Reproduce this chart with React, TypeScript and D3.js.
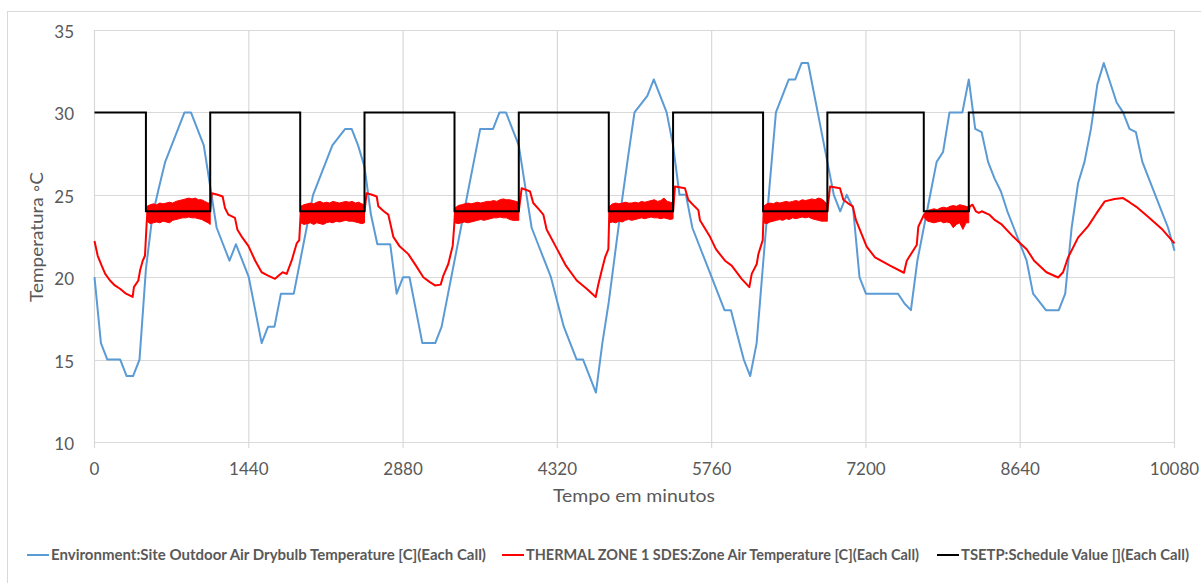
import React, { useEffect, useRef } from "react";
import * as d3 from "d3";

// x axis: minutes over one week, y axis: temperature in C
const xTicks = [0, 1440, 2880, 4320, 5760, 7200, 8640, 10080];
const yTicks = [10, 15, 20, 25, 30, 35];

// TSETP schedule: minute where the value changes and the value from there on
const scheduleMinutes = [0, 480, 1080, 1920, 2520, 3360, 3960, 4800, 5400, 6240, 6840, 7740, 8160, 10080];
const scheduleValues = [30, 24, 30, 24, 30, 24, 30, 24, 30, 24, 30, 24, 30, 30];

// outdoor drybulb, one value per hour (minute 0 .. 10080)
const outdoorTemp = [
  20, 16, 15, 15, 15, 14, 14, 15, 20.5, 23.7, 25.4, 27, 28, 29, 30, 30, 29, 28, 25.5, 23, 22, 21, 22, 21,
  20, 18, 16, 17, 17, 19, 19, 19, 21, 23, 25, 26, 27, 28, 28.5, 29, 29, 28, 26.7, 23.8, 22, 22, 22, 19,
  20, 20, 18, 16, 16, 16, 17, 19, 21, 23, 25, 27, 29, 29, 29, 30, 30, 29, 28, 25.5, 23, 22, 21, 20,
  18.5, 17, 16, 15, 15, 14, 13, 16, 18.5, 21.5, 24.5, 27.3, 30, 30.5, 31, 32, 31, 30, 28, 25, 25, 23, 22, 21,
  20, 19, 18, 18, 16.5, 15, 14, 16, 20.8, 25.5, 30, 31, 32, 32, 33, 33, 31, 29, 27, 25, 24, 25, 24.2, 20,
  19, 19, 19, 19, 19, 19, 18.4, 18, 21, 23, 25, 27, 27.6, 30, 30, 30, 32, 29, 28.8, 27, 26, 25.2, 24, 23,
  22, 21, 19, 18.5, 18, 18, 18, 19, 23, 25.7, 27, 29, 31.7, 33, 31.8, 30.6, 30, 29, 28.8, 27, 26, 25, 24, 23,
  21.6
];

// zone air temperature outside the occupied hours (inside them it is hidden by the band)
const zoneMinutes = [
  0, 30, 67, 100, 145, 190, 238, 294, 356, 368, 409, 425, 450, 471, 487, 495, 1080, 1094, 1150, 1196, 1218, 1249,
  1311, 1333, 1380, 1436, 1500, 1560, 1620, 1685, 1720, 1756, 1794, 1840, 1887, 1911, 1925, 2520, 2540, 2590,
  2634, 2649, 2700, 2742, 2789, 2845, 2929, 3000, 3069, 3130, 3178, 3231, 3256, 3302, 3343, 3356, 3365, 3960,
  3987, 4030, 4065, 4095, 4150, 4189, 4220, 4314, 4400, 4501, 4594, 4678, 4700, 4734, 4765, 4796, 4805, 5400,
  5418, 5511, 5542, 5600, 5636, 5651, 5745, 5800, 5885, 5947, 6040, 6112, 6134, 6181, 6196, 6237, 6245, 6840,
  6865, 6958, 6989, 7030, 7077, 7107, 7207, 7285, 7425, 7555, 7581, 7674, 7689, 7742, 8160, 8170, 8195, 8226,
  8255, 8281, 8350, 8405, 8467, 8576, 8700, 8770, 8885, 8994, 9040, 9087, 9180, 9274, 9351, 9429, 9520, 9600,
  9660, 9724, 9833, 9957, 10080
];
const zoneValues = [
  22.2, 21.3, 20.7, 20.2, 19.8, 19.5, 19.3, 19.0, 18.8, 19.4, 19.8, 20.4, 21.0, 21.3, 23.3, 24.0, 24.0, 25.1, 25.0, 24.9, 24.2, 23.8,
  23.6, 22.9, 22.4, 21.9, 21.0, 20.3, 20.1, 19.9, 20.1, 20.3, 20.2, 21.0, 22.05, 22.25, 24.0, 24.0, 25.1, 25.0,
  24.9, 24.3, 24.0, 23.8, 22.45, 21.9, 21.4, 20.7, 20.0, 19.7, 19.5, 19.55, 20.1, 20.8, 21.9, 23.0, 24.0, 24.0,
  25.4, 25.3, 25.2, 24.5, 24.1, 23.8, 22.9, 21.75, 20.7, 19.8, 19.3, 18.8, 19.5, 20.4, 21.2, 21.7, 24.0, 24.0,
  25.5, 25.4, 24.7, 24.3, 24.07, 23.46, 22.45, 21.7, 21.0, 20.7, 19.9, 19.4, 20.2, 20.8, 21.4, 22.25, 24.0, 24.0,
  25.5, 25.4, 24.7, 24.5, 24.3, 23.46, 21.85, 21.2, 20.7, 20.27, 21.0, 21.95, 23.06, 23.8, 24.0, 24.3, 24.4, 24.0,
  23.9, 24.0, 23.8, 23.46, 23.2, 22.45, 21.7, 21.0, 20.3, 19.98, 20.3, 21.2, 22.4, 23.1, 23.87, 24.6, 24.75, 24.8,
  24.55, 24.27, 23.67, 22.96, 22.05
];

// occupied periods: the zone temperature swings fast around 24, kept as a low/high envelope
const occ1Minutes = [490, 520, 550, 580, 610, 640, 670, 700, 730, 760, 790, 820, 850, 880, 910, 940, 970, 1000, 1030, 1060, 1080];
const occ1High = [24.3, 24.4, 24.45, 24.4, 24.5, 24.45, 24.5, 24.55, 24.5, 24.6, 24.65, 24.7, 24.75, 24.8, 24.75, 24.8, 24.7, 24.7, 24.6, 24.5, 24.5];
const occ1Low = [23.4, 23.25, 23.3, 23.35, 23.3, 23.4, 23.35, 23.3, 23.45, 23.5, 23.55, 23.6, 23.6, 23.65, 23.6, 23.6, 23.55, 23.5, 23.4, 23.3, 23.2];

const occ2Minutes = [1925, 1955, 1985, 2015, 2045, 2075, 2105, 2135, 2165, 2195, 2225, 2255, 2285, 2315, 2345, 2375, 2405, 2435, 2465, 2495, 2520];
const occ2High = [24.3, 24.4, 24.45, 24.5, 24.45, 24.55, 24.6, 24.5, 24.55, 24.5, 24.6, 24.55, 24.5, 24.55, 24.6, 24.55, 24.6, 24.5, 24.55, 24.45, 24.4];
const occ2Low = [23.3, 23.2, 23.25, 23.3, 23.2, 23.3, 23.25, 23.2, 23.3, 23.35, 23.3, 23.4, 23.35, 23.4, 23.45, 23.4, 23.4, 23.35, 23.3, 23.25, 23.3];

const occ3Minutes = [3365, 3395, 3425, 3455, 3485, 3515, 3545, 3575, 3605, 3635, 3665, 3695, 3725, 3755, 3785, 3815, 3845, 3875, 3905, 3935, 3960];
const occ3High = [24.2, 24.35, 24.4, 24.45, 24.5, 24.45, 24.5, 24.55, 24.5, 24.55, 24.6, 24.6, 24.65, 24.6, 24.7, 24.75, 24.7, 24.7, 24.65, 24.6, 24.55];
const occ3Low = [23.3, 23.25, 23.3, 23.35, 23.3, 23.35, 23.4, 23.45, 23.5, 23.45, 23.5, 23.55, 23.6, 23.6, 23.65, 23.6, 23.6, 23.5, 23.45, 23.45, 23.45];

const occ4Minutes = [4805, 4835, 4865, 4895, 4925, 4955, 4985, 5015, 5045, 5075, 5105, 5135, 5165, 5195, 5225, 5255, 5285, 5315, 5345, 5375, 5400];
const occ4High = [24.3, 24.45, 24.5, 24.45, 24.5, 24.55, 24.5, 24.5, 24.55, 24.5, 24.6, 24.55, 24.6, 24.65, 24.7, 24.6, 24.65, 24.8, 24.6, 24.55, 24.5];
const occ4Low = [23.3, 23.35, 23.3, 23.4, 23.35, 23.45, 23.5, 23.45, 23.5, 23.55, 23.6, 23.55, 23.6, 23.65, 23.6, 23.6, 23.55, 23.6, 23.55, 23.5, 23.55];

const occ5Minutes = [6245, 6275, 6305, 6335, 6365, 6395, 6425, 6455, 6485, 6515, 6545, 6575, 6605, 6635, 6665, 6695, 6725, 6755, 6785, 6815, 6840];
const occ5High = [24.3, 24.45, 24.5, 24.45, 24.55, 24.5, 24.55, 24.6, 24.55, 24.6, 24.65, 24.6, 24.7, 24.65, 24.7, 24.75, 24.7, 24.8, 24.75, 24.6, 24.4];
const occ5Low = [23.3, 23.25, 23.35, 23.4, 23.45, 23.5, 23.45, 23.55, 23.5, 23.6, 23.55, 23.6, 23.65, 23.6, 23.65, 23.55, 23.5, 23.45, 23.4, 23.4, 23.4];

const occ6Minutes = [7745, 7775, 7805, 7835, 7865, 7895, 7925, 7955, 7985, 8015, 8045, 8075, 8105, 8135, 8160];
const occ6High = [23.9, 24.05, 24.1, 24.15, 24.1, 24.2, 24.25, 24.2, 24.3, 24.35, 24.3, 24.4, 24.35, 24.3, 24.25];
const occ6Low = [23.6, 23.4, 23.35, 23.3, 23.35, 23.4, 23.3, 23.35, 23.3, 23.0, 23.2, 23.3, 22.9, 23.3, 23.3];

const legendLabels = [
  "Environment:Site Outdoor Air Drybulb Temperature [C](Each Call)",
  "THERMAL ZONE 1 SDES:Zone Air Temperature [C](Each Call)",
  "TSETP:Schedule Value [](Each Call)"
];
const seriesColors = ["#5B9BD5", "#FF0000", "#000000"];

export default function App() {
  const svgRef = useRef<SVGSVGElement>(null);

  useEffect(() => {
    const width = 1201;
    const height = 583;
    const textColor = "#595959";
    const gridColor = "#D9D9D9";
    const font = "Lato, 'Open Sans', sans-serif";

    const x = d3.scaleLinear().domain([0, 10080]).range([94.5, 1174.5]);
    const y = d3.scaleLinear().domain([10, 35]).range([442, 30]);

    const svg = d3.select(svgRef.current)
      .attr("width", width)
      .attr("height", height)
      .attr("viewBox", [0, 0, width, height])
      .style("font-family", font);

    svg.selectAll("*").remove();

    svg.append("rect")
      .attr("width", width).attr("height", height).attr("fill", "#fff");

    // chart frame
    svg.append("rect")
      .attr("x", 7.5).attr("y", 11.5)
      .attr("width", 1220).attr("height", 600)
      .attr("fill", "none").attr("stroke", gridColor);

    // gridlines
    svg.append("g").selectAll("line").data(yTicks).join("line")
      .attr("x1", x(0)).attr("x2", x(10080))
      .attr("y1", d => Math.round(y(d)) + 0.5).attr("y2", d => Math.round(y(d)) + 0.5)
      .attr("stroke", gridColor).attr("stroke-width", 1.2);

    svg.append("g").selectAll("line").data(xTicks).join("line")
      .attr("x1", d => x(d)).attr("x2", d => x(d))
      .attr("y1", y(35)).attr("y2", y(10) + 6)
      .attr("stroke", gridColor).attr("stroke-width", 1.2);

    // tick labels
    svg.append("g").selectAll("text").data(yTicks).join("text")
      .attr("x", 74).attr("y", d => y(d) + 8)
      .attr("text-anchor", "end")
      .attr("font-size", 17).attr("fill", textColor)
      .text(d => d);

    svg.append("g").selectAll("text").data(xTicks).join("text")
      .attr("x", d => x(d)).attr("y", 475)
      .attr("text-anchor", "middle")
      .attr("font-size", 17).attr("fill", textColor)
      .text(d => d);

    // axis titles
    svg.append("text")
      .attr("x", 634).attr("y", 502)
      .attr("text-anchor", "middle")
      .attr("font-size", 18).attr("fill", textColor)
      .attr("textLength", 162).attr("lengthAdjust", "spacingAndGlyphs")
      .text("Tempo em minutos");

    svg.append("text")
      .attr("transform", "translate(43,237) rotate(-90)")
      .attr("text-anchor", "middle")
      .attr("font-size", 18).attr("fill", textColor)
      .attr("textLength", 130).attr("lengthAdjust", "spacingAndGlyphs")
      .text("Temperatura \u25E6C");

    const plot = svg.append("g");

    // outdoor temperature
    const line = d3.line<[number, number]>().x(d => x(d[0])).y(d => y(d[1]));
    plot.append("path")
      .attr("d", line(outdoorTemp.map((v, i) => [i * 60, v])))
      .attr("fill", "none").attr("stroke", seriesColors[0])
      .attr("stroke-width", 2).attr("stroke-linejoin", "round");

    // zone temperature
    plot.append("path")
      .attr("d", line(zoneMinutes.map((m, i) => [m, zoneValues[i]])))
      .attr("fill", "none").attr("stroke", seriesColors[1])
      .attr("stroke-width", 2).attr("stroke-linejoin", "round");

    const area = d3.area<[number, number, number]>()
      .x(d => x(d[0])).y0(d => y(d[1])).y1(d => y(d[2]));
    const occupied = [
      [occ1Minutes, occ1Low, occ1High],
      [occ2Minutes, occ2Low, occ2High],
      [occ3Minutes, occ3Low, occ3High],
      [occ4Minutes, occ4Low, occ4High],
      [occ5Minutes, occ5Low, occ5High],
      [occ6Minutes, occ6Low, occ6High]
    ];
    plot.append("g").selectAll("path").data(occupied).join("path")
      .attr("d", ([ms, lo, hi]) => area(ms.map((m, i) => [m, lo[i], hi[i]])))
      .attr("fill", seriesColors[1]).attr("stroke", seriesColors[1]).attr("stroke-width", 1);

    // setpoint schedule
    const step = d3.line<[number, number]>().x(d => x(d[0])).y(d => y(d[1])).curve(d3.curveStepAfter);
    plot.append("path")
      .attr("d", step(scheduleMinutes.map((m, i) => [m, scheduleValues[i]])))
      .attr("fill", "none").attr("stroke", seriesColors[2])
      .attr("stroke-width", 2);

    // legend
    const legendX = [27, 502, 937];
    const legendWidths = [435, 393, 228];
    const legend = svg.append("g").selectAll("g").data(legendLabels).join("g")
      .attr("transform", (d, i) => `translate(${legendX[i]},555)`);
    legend.append("line")
      .attr("x1", 0).attr("x2", 22)
      .attr("stroke", (d, i) => seriesColors[i]).attr("stroke-width", 2);
    legend.append("text")
      .attr("x", 24).attr("y", 5)
      .attr("font-size", 14.5).attr("font-weight", "bold").attr("fill", textColor)
      .attr("textLength", (d, i) => legendWidths[i])
      .attr("lengthAdjust", "spacingAndGlyphs")
      .text(d => d);

    return () => {
      d3.select(svgRef.current).selectAll("*").remove();
    };
  }, []);

  return (
    <div style={{ position: "absolute", left: 0, top: 0 }}>
      <svg ref={svgRef} style={{ display: "block" }} />
    </div>
  );
}
